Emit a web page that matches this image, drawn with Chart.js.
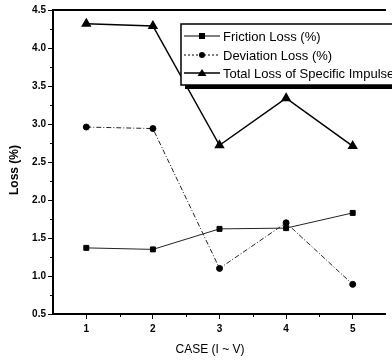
<!DOCTYPE html>
<html>
<head>
<meta charset="utf-8">
<script src="https://cdn.jsdelivr.net/npm/chart.js@4/dist/chart.umd.min.js"></script>
<style>
  html, body { margin: 0; padding: 0; background: #fff; }
  #wrap { width: 392px; height: 360px; }
</style>
</head>
<body>
<div id="wrap"><canvas id="myChart" width="392" height="360"></canvas></div>
<script>
// dados
const cases = [1, 2, 3, 4, 5];
const friction = [1.37, 1.35, 1.62, 1.63, 1.83];
const deviation = [2.96, 2.94, 1.10, 1.70, 0.89];
const total = [4.32, 4.29, 2.72, 3.34, 2.71];
const legendLabels = ["Friction Loss (%)", "Deviation Loss (%)", "Total Loss of Specific Impulse"];
const xTitle = "CASE (I ~ V)";
const yTitle = "Loss (%)";

const pts = arr => arr.map((v, i) => ({ x: cases[i], y: v }));
const fam = '"Liberation Sans", Arial, sans-serif';

// moldura, ticks menores, títulos dos eixos e legenda com sombra
const extras = {
  id: 'extras',
  afterDraw(chart) {
    const c = chart.ctx, a = chart.chartArea;
    const xs = chart.scales.x, ys = chart.scales.y;
    c.save();
    c.strokeStyle = '#000';
    c.lineWidth = 2;
    c.beginPath();
    c.moveTo(a.left, a.bottom); c.lineTo(a.left, a.top); c.lineTo(a.right, a.top);
    c.moveTo(a.left, a.bottom); c.lineTo(a.right, a.bottom);
    c.stroke();
    c.lineWidth = 1;
    c.beginPath();
    for (let v = 0.75; v < 4.5; v += 0.5) {
      const y = Math.round(ys.getPixelForValue(v)) + 0.5;
      c.moveTo(a.left - 3, y); c.lineTo(a.left, y);
    }
    for (let v = 1.5; v < 5.5; v += 1) {
      const x = Math.round(xs.getPixelForValue(v)) + 0.5;
      c.moveTo(x, a.bottom); c.lineTo(x, a.bottom + 3);
    }
    c.stroke();

    // títulos
    c.fillStyle = '#000';
    c.textAlign = 'center';
    c.textBaseline = 'middle';
    c.font = '12px ' + fam;
    c.fillText(xTitle, 210, 350);
    c.save();
    c.translate(15, 170);
    c.rotate(-Math.PI / 2);
    c.font = 'bold 12px ' + fam;
    c.fillText(yTitle, 0, 0);
    c.restore();

    // legenda
    const bx = 181, by = 24, bw = 215, bh = 61;
    c.fillStyle = '#000';
    c.fillRect(bx + 4, by + 4, bw, bh);
    c.fillStyle = '#fff';
    c.fillRect(bx, by, bw, bh);
    c.lineWidth = 1.5;
    c.strokeRect(bx, by, bw, bh);
    const rows = [by + 12, by + 31, by + 49];
    const styles = [
      { dash: [], marker: 'rect', lw: 1.2 },
      { dash: [2, 2], marker: 'circle', lw: 1 },
      { dash: [], marker: 'triangle', lw: 1.5 }
    ];
    c.font = '13px ' + fam;
    c.textAlign = 'left';
    rows.forEach((y, i) => {
      const s = styles[i];
      c.strokeStyle = '#000';
      c.lineWidth = s.lw;
      c.setLineDash(s.dash);
      c.beginPath(); c.moveTo(184, y); c.lineTo(220, y); c.stroke();
      c.setLineDash([]);
      c.fillStyle = '#000';
      if (s.marker === 'rect') c.fillRect(199, y - 3, 6, 6);
      if (s.marker === 'circle') { c.beginPath(); c.arc(202, y, 3, 0, Math.PI * 2); c.fill(); }
      if (s.marker === 'triangle') {
        c.beginPath(); c.moveTo(202, y - 4); c.lineTo(206.5, y + 3); c.lineTo(197.5, y + 3); c.closePath(); c.fill();
      }
      c.fillText(legendLabels[i], 223, y + 1);
    });
    c.restore();
  }
};

const ctx = document.getElementById('myChart');

new Chart(ctx, {
  type: 'line',
  data: {
    datasets: [
      {
        label: legendLabels[0],
        data: pts(friction),
        borderColor: '#222',
        borderWidth: 1,
        pointStyle: 'rect',
        pointRadius: 3.5,
        backgroundColor: '#000',
        pointBorderColor: '#000'
      },
      {
        label: legendLabels[1],
        data: pts(deviation),
        borderColor: '#222',
        borderWidth: 1,
        borderDash: [5, 2, 1, 2],
        pointStyle: 'circle',
        pointRadius: 3,
        backgroundColor: '#000',
        pointBorderColor: '#000'
      },
      {
        label: legendLabels[2],
        data: pts(total),
        borderColor: '#000',
        borderWidth: 1.5,
        pointStyle: 'triangle',
        pointRadius: 4.5,
        backgroundColor: '#000',
        pointBorderColor: '#000'
      }
    ]
  },
  options: {
    responsive: false,
    animation: false,
    layout: { padding: { top: 10, right: 0, left: 0, bottom: 0 } },
    plugins: { legend: { display: false }, tooltip: { enabled: false } },
    scales: {
      x: {
        type: 'linear',
        min: 0.5, max: 5.5,
        afterFit: s => { s.height = 46; },
        afterBuildTicks: s => { s.ticks = cases.map(v => ({ value: v })); },
        border: { display: false },
        grid: { drawOnChartArea: false, drawTicks: true, tickLength: 5, color: '#000', lineWidth: 1 },
        ticks: { color: '#000', padding: 4, font: { size: 10, weight: 'bold', family: fam } }
      },
      y: {
        min: 0.5, max: 4.5,
        afterFit: s => { s.width = 53; },
        border: { display: false },
        grid: { drawOnChartArea: false, drawTicks: true, tickLength: 5, color: '#000', lineWidth: 1 },
        ticks: { stepSize: 0.5, color: '#000', padding: 2, callback: v => v.toFixed(1), font: { size: 10, weight: 'bold', family: fam } }
      }
    }
  },
  plugins: [extras]
});
</script>
</body>
</html>
